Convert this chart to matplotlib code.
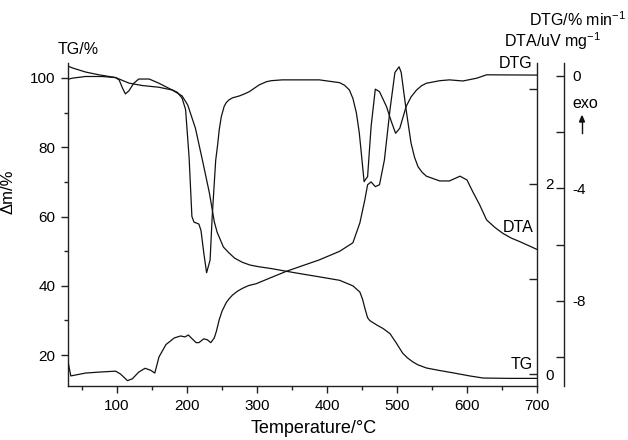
import matplotlib
matplotlib.use('Agg')
import matplotlib.pyplot as plt
from matplotlib.ticker import MultipleLocator, FixedLocator

plt.rcParams['font.family'] = ['Liberation Sans', 'DejaVu Sans']
plt.rcParams['axes.unicode_minus'] = False
plt.rcParams['mathtext.default'] = 'regular'

# TG curve, mass in %
tg_temp = [30, 36, 55, 74, 98, 117, 136, 160, 179, 193, 201, 212, 222, 232, 239,
           243, 252, 260, 268, 279, 290, 303, 320, 342, 365, 389, 418, 437, 447,
           451, 454, 458, 461, 464, 472, 480, 490, 499, 508, 515, 523, 530, 542,
           560, 580, 604, 623, 660, 700]
tg_mass = [103.4, 102.9, 101.7, 100.9, 100.1, 98.5, 97.8, 97.3, 96.5, 94.8, 92.2,
           85.5, 76.3, 66.8, 58.5, 55.5, 51.2, 49.5, 48.0, 46.8, 46.0, 45.5, 45.0,
           44.2, 43.4, 42.6, 41.6, 40.0, 38.2, 36.0, 33.6, 30.8, 30.0, 29.6, 28.6,
           27.7, 26.2, 23.5, 20.6, 19.2, 18.0, 17.2, 16.3, 15.6, 14.9, 14.0, 13.4,
           13.3, 13.3]

# DTG curve, % min^-1
dtg_temp = [30, 36, 55, 79, 98, 103, 108, 112, 117, 124, 131, 146, 160, 174, 186,
            193, 198, 203, 207, 210, 217, 220, 224, 228, 233, 236, 241, 244, 246,
            249, 253, 256, 260, 265, 275, 282, 289, 296, 303, 313, 320, 336, 389,
            418, 425, 432, 437, 442, 446, 449, 453, 458, 463, 469, 475, 485, 492,
            498, 504, 513, 520, 528, 535, 542, 561, 575, 594, 614, 628, 700]
dtg_rate = [-0.12, -0.08, -0.02, -0.02, -0.06, -0.14, -0.44, -0.64, -0.53, -0.26,
            -0.11, -0.11, -0.26, -0.44, -0.58, -0.79, -1.2, -2.9, -5.0, -5.2,
            -5.27, -5.5, -6.3, -7.0, -6.55, -5.0, -3.0, -2.4, -1.92, -1.45, -1.09,
            -0.95, -0.85, -0.78, -0.71, -0.64, -0.56, -0.44, -0.32, -0.21, -0.17,
            -0.14, -0.14, -0.24, -0.33, -0.5, -0.8, -1.32, -2.0, -2.74, -3.76,
            -3.58, -1.8, -0.47, -0.56, -1.09, -1.63, -2.04, -1.86, -1.09, -0.75,
            -0.5, -0.35, -0.26, -0.17, -0.14, -0.18, -0.08, 0.04, 0.03]

# DTA curve, uV mg^-1
dta_temp = [30, 34, 55, 74, 98, 105, 115, 122, 131, 140, 148, 154, 160, 170, 182,
            191, 197, 202, 206, 213, 217, 224, 229, 234, 239, 242, 246, 250, 256,
            260, 265, 272, 279, 288, 299, 322, 342, 389, 418, 437, 447, 454, 458,
            463, 469, 475, 482, 490, 497, 503, 506, 513, 520, 525, 530, 536, 542,
            561, 575, 590, 600, 608, 618, 628, 640, 651, 663, 676, 688, 700]
dta_signal = [0.13, -0.02, 0.01, 0.02, 0.03, 0.0, -0.07, -0.05, 0.02, 0.06, 0.04,
              0.01, 0.18, 0.31, 0.38, 0.40, 0.39, 0.41, 0.38, 0.33, 0.33, 0.37,
              0.36, 0.33, 0.38, 0.45, 0.57, 0.66, 0.75, 0.79, 0.83, 0.87, 0.90,
              0.93, 0.95, 1.02, 1.08, 1.20, 1.29, 1.38, 1.59, 1.83, 1.99, 2.02,
              1.97, 1.99, 2.25, 2.78, 3.17, 3.23, 3.17, 2.78, 2.43, 2.28, 2.18,
              2.12, 2.08, 2.03, 2.03, 2.08, 2.04, 1.92, 1.78, 1.62, 1.54, 1.48,
              1.43, 1.39, 1.35, 1.31]

W, H = 628, 440
fig = plt.figure(figsize=(W / 100, H / 100), dpi=100)
ax = fig.add_axes([68 / W, 1 - 386 / H, 469 / W, 323 / H])
ax_dta = ax.twinx()
ax_dtg = ax.twinx()

lw = 0.9
col = '#111111'
ax.plot(tg_temp, tg_mass, color=col, lw=lw)
ax_dta.plot(dta_temp, dta_signal, color=col, lw=lw)
ax_dtg.plot(dtg_temp, dtg_rate, color=col, lw=lw)

ax.set_xlim(30, 700)
ax.set_ylim(11.1, 104.3)
ax_dta.set_ylim(-0.126, 3.27)
ax_dtg.set_ylim(-11.03, 0.46)

# spines
ax.spines['top'].set_visible(False)
ax.spines['right'].set_visible(False)
for a in (ax_dta, ax_dtg):
    a.spines['top'].set_visible(False)
    a.spines['left'].set_visible(False)
    a.spines['bottom'].set_visible(False)
ax_dtg.spines['right'].set_position(('outward', 19.5))
for a in (ax, ax_dta, ax_dtg):
    for s in a.spines.values():
        s.set_linewidth(1.0)
        s.set_color('#222222')

# ticks
ax.xaxis.set_major_locator(MultipleLocator(100))
ax.xaxis.set_minor_locator(MultipleLocator(50))
ax.yaxis.set_major_locator(MultipleLocator(20))
ax.yaxis.set_minor_locator(MultipleLocator(10))
ax.tick_params(which='both', direction='out', labelsize=11, color='#222222')
ax.tick_params(which='major', length=5, width=1.0, pad=4)
ax.tick_params(which='minor', length=3, width=1.0)

ax_dta.yaxis.set_major_locator(FixedLocator([0, 2]))
ax_dta.yaxis.set_minor_locator(FixedLocator([1, 3]))
ax_dtg.yaxis.set_major_locator(FixedLocator([0, -4, -8]))
ax_dtg.yaxis.set_minor_locator(FixedLocator([-2, -6, -10]))
for a in (ax_dta, ax_dtg):
    a.tick_params(which='both', direction='in', labelsize=11, color='#222222')
    a.tick_params(which='major', length=6, width=1.0, pad=6)
    a.tick_params(which='minor', length=6, width=1.0)

ax.set_ylabel('Δm/%', fontsize=12)
ax.yaxis.set_label_coords(-0.113, 0.6)

def px(x, y, s, **kw):
    fig.text(x / W, 1 - y / H, s, **kw)

px(314, 428, 'Temperature/°C', fontsize=13, ha='center', va='center')
px(78, 50, 'TG/%', fontsize=11.5, ha='center', va='center')
px(626, 20, 'DTG/% min$^{-1}$', fontsize=11.5, ha='right', va='center')
px(601, 41, 'DTA/uV mg$^{-1}$', fontsize=11.5, ha='right', va='center')
px(533, 63, 'DTG', fontsize=11.5, ha='right', va='center')
px(533, 227, 'DTA', fontsize=11.5, ha='right', va='center')
px(533, 364, 'TG', fontsize=11.5, ha='right', va='center')
px(585, 104, 'exo', fontsize=11.5, ha='center', va='center')
fig.add_artist(plt.Line2D([582 / W, 582 / W], [1 - 133 / H, 1 - 120 / H],
                          color=col, lw=1.0))
fig.add_artist(plt.Polygon([[579.5 / W, 1 - 122 / H], [584.5 / W, 1 - 122 / H],
                            [582 / W, 1 - 116 / H]], closed=True, color=col))

fig.savefig('out.png', dpi=100)
